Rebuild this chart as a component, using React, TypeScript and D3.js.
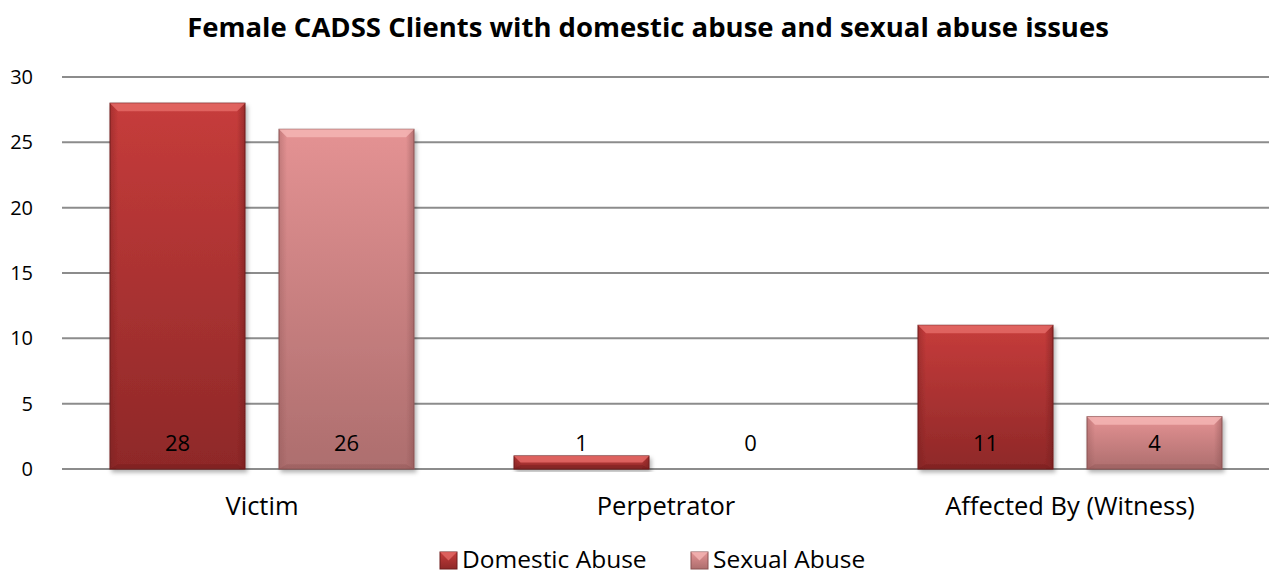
import React from "react";
import * as d3 from "d3";

const categories = ["Victim", "Perpetrator", "Affected By (Witness)"];
const seriesNames = ["Domestic Abuse", "Sexual Abuse"];
const domesticAbuse = [28, 1, 11];
const sexualAbuse = [26, 0, 4];
const yTicks = [0, 5, 10, 15, 20, 25, 30];

const W = 1269;
const H = 575;
const FONT = "'Open Sans', Lato, sans-serif";

const seriesColors = [
  { top: "#c63c3b", bottom: "#8e2828", edge: "#6e1c1c", light: "#e46a66" },
  { top: "#e49293", bottom: "#ad6e6e", edge: "#8a5252", light: "#f4b5b4" },
];

export default function App() {
  const values = [domesticAbuse, sexualAbuse];
  const x = d3.scaleBand<string>().domain(categories).range([60, 1272]).padding(0);
  const y = d3.scaleLinear().domain([0, 30]).range([469, 77]);
  const inner = d3.scaleBand<number>().domain([0, 1]).range([50, x.bandwidth() - 50]).paddingInner(34 / 169);
  const bw = inner.bandwidth();

  return (
    <svg width={W} height={H} style={{ display: "block", position: "absolute", left: 0, top: 0 }}>
      <defs>
        {seriesColors.map((c, i) => (
          <linearGradient key={i} id={`g${i}`} x1="0" y1="0" x2="0" y2="1">
            <stop offset="0%" stopColor={c.top} />
            <stop offset="100%" stopColor={c.bottom} />
          </linearGradient>
        ))}
        {seriesColors.map((c, i) => (
          <linearGradient key={"h" + i} id={`h${i}`} x1="0" y1="0" x2="1" y2="0">
            <stop offset="0%" stopColor={c.edge} stopOpacity={0.35} />
            <stop offset="6%" stopColor={c.edge} stopOpacity={0} />
            <stop offset="94%" stopColor={c.edge} stopOpacity={0} />
            <stop offset="100%" stopColor={c.edge} stopOpacity={0.5} />
          </linearGradient>
        ))}
        <filter id="shadow" x="-10%" y="-10%" width="130%" height="130%">
          <feDropShadow dx="2" dy="3" stdDeviation="2" floodColor="#000" floodOpacity="0.3" />
        </filter>
      </defs>
      <rect width={W} height={H} fill="#fff" />
      <text x={648} y={37} textAnchor="middle" fontFamily={FONT} fontWeight="bold" fontSize={27.5} fill="#000">
        Female CADSS Clients with domestic abuse and sexual abuse issues
      </text>
      {yTicks.map((t) => (
        <g key={t}>
          <line x1={62} x2={W} y1={y(t)} y2={y(t)} stroke="#8c8c8c" strokeWidth={2} />
          <text x={33} y={y(t) + 7} textAnchor="end" fontFamily={FONT} fontSize={20} fill="#000">
            {t}
          </text>
        </g>
      ))}
      {categories.map((cat, ci) => (
        <g key={cat}>
          {values.map((vals, si) => {
            const v = vals[ci];
            const bx = (x(cat) as number) + (inner(si) as number);
            const by = y(v);
            const bh = y(0) - by;
            const c = seriesColors[si];
            const bev = Math.min(8, bh / 2);
            return (
              <g key={si}>
                {bh > 0 && (
                  <g filter="url(#shadow)">
                    <rect x={bx} y={by} width={bw} height={bh} fill={`url(#g${si})`} stroke={c.edge} strokeWidth={1} />
                    <rect x={bx} y={by} width={bw} height={bh} fill={`url(#h${si})`} />
                    <polygon
                      points={`${bx},${by} ${bx + bw},${by} ${bx + bw - bev},${by + bev} ${bx + bev},${by + bev}`}
                      fill={c.light}
                      opacity={0.85}
                    />
                    <polygon
                      points={`${bx},${by + bh} ${bx + bw},${by + bh} ${bx + bw - bev},${by + bh - bev * 0.6} ${bx + bev},${by + bh - bev * 0.6}`}
                      fill={c.edge}
                      opacity={0.35}
                    />
                  </g>
                )}
                <text
                  x={bx + bw / 2}
                  y={451}
                  textAnchor="middle"
                  fontFamily={FONT}
                  fontSize={22}
                  fill="#000"
                >
                  {v}
                </text>
              </g>
            );
          })}
          <text
            x={(x(cat) as number) + x.bandwidth() / 2}
            y={515}
            textAnchor="middle"
            fontFamily={FONT}
            fontSize={25.5}
            fill="#000"
          >
            {cat}
          </text>
        </g>
      ))}
      {seriesNames.map((name, i) => {
        const lx = [440, 691][i];
        const c = seriesColors[i];
        const s = 17;
        const ty = 552;
        return (
          <g key={name}>
            <rect x={lx} y={ty} width={s} height={s} fill={`url(#g${i})`} stroke={c.edge} strokeWidth={1} />
            <polygon points={`${lx},${ty} ${lx + s},${ty} ${lx + s / 2},${ty + s / 2}`} fill={c.light} opacity={0.8} />
            <text x={lx + s + 5} y={568} fontFamily={FONT} fontSize={24.5} fill="#000">
              {name}
            </text>
          </g>
        );
      })}
    </svg>
  );
}
